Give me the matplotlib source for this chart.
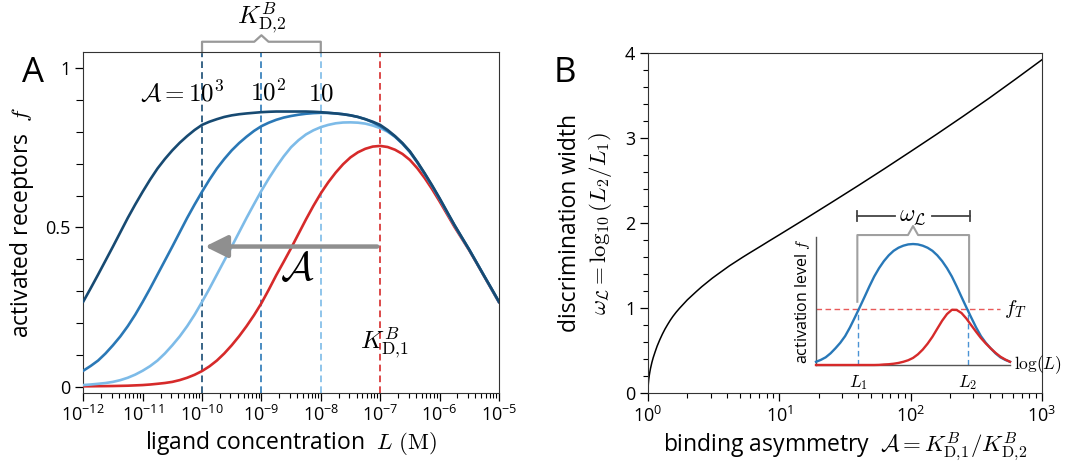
import matplotlib.pyplot as plt
import matplotlib.transforms as mtransforms
from matplotlib.ticker import LogLocator, NullFormatter, MultipleLocator
import numpy as np

plt.rcParams['font.family'] = ['Open Sans', 'DejaVu Sans']
plt.rcParams['mathtext.fontset'] = 'cm'

# ---- panel A data: log10 ligand concentration (M) and activation f ----
log_L = [-12, -11.875, -11.75, -11.625, -11.5, -11.375, -11.25, -11.125,
         -11, -10.875, -10.75, -10.625, -10.5, -10.375, -10.25, -10.125,
         -10, -9.875, -9.75, -9.625, -9.5, -9.375, -9.25, -9.125,
         -9, -8.875, -8.75, -8.625, -8.5, -8.375, -8.25, -8.125,
         -8, -7.875, -7.75, -7.625, -7.5, -7.375, -7.25, -7.125,
         -7, -6.875, -6.75, -6.625, -6.5, -6.375, -6.25, -6.125,
         -6, -5.875, -5.75, -5.625, -5.5, -5.375, -5.25, -5.125, -5]
f_A1 = [0.001, 0.0012, 0.0015, 0.0017, 0.002, 0.0025, 0.003, 0.004,
        0.005, 0.0067, 0.009, 0.0115, 0.015, 0.0206, 0.028, 0.0373,
        0.049, 0.0638, 0.082, 0.1043, 0.13, 0.1585, 0.19, 0.2243,
        0.262, 0.305, 0.35, 0.392, 0.435, 0.48, 0.525, 0.5676,
        0.607, 0.6416, 0.672, 0.6984, 0.72, 0.7359, 0.747, 0.7539,
        0.756, 0.7526, 0.744, 0.7308, 0.712, 0.686, 0.655, 0.62,
        0.582, 0.542, 0.502, 0.465, 0.428, 0.388, 0.347, 0.306, 0.265]
f_A10 = [0.005, 0.0068, 0.009, 0.0114, 0.015, 0.0205, 0.028, 0.0378,
         0.05, 0.0644, 0.082, 0.1043, 0.13, 0.158, 0.19, 0.226,
         0.266, 0.308, 0.352, 0.396, 0.44, 0.485, 0.53, 0.573,
         0.615, 0.654, 0.69, 0.723, 0.752, 0.774, 0.792, 0.805,
         0.815, 0.822, 0.827, 0.8295, 0.83, 0.829, 0.826, 0.82,
         0.812, 0.8006, 0.785, 0.764, 0.738, 0.705, 0.668, 0.63,
         0.59, 0.548, 0.507, 0.468, 0.43, 0.389, 0.348, 0.307, 0.266]
f_A100 = [0.05, 0.065, 0.082, 0.1043, 0.13, 0.158, 0.19, 0.226,
          0.266, 0.308, 0.352, 0.396, 0.44, 0.485, 0.53, 0.572,
          0.612, 0.65, 0.685, 0.715, 0.742, 0.765, 0.785, 0.803,
          0.818, 0.829, 0.838, 0.845, 0.85, 0.854, 0.857, 0.859,
          0.86, 0.8596, 0.858, 0.8556, 0.852, 0.847, 0.84, 0.83,
          0.818, 0.803, 0.785, 0.763, 0.737, 0.704, 0.668, 0.63,
          0.59, 0.548, 0.507, 0.468, 0.43, 0.389, 0.348, 0.307, 0.266]
f_A1000 = [0.267, 0.309, 0.352, 0.396, 0.44, 0.485, 0.53, 0.572,
           0.612, 0.65, 0.685, 0.715, 0.742, 0.766, 0.787, 0.806,
           0.822, 0.832, 0.84, 0.847, 0.852, 0.8555, 0.858, 0.86,
           0.862, 0.8632, 0.864, 0.864, 0.864, 0.864, 0.864, 0.8632,
           0.862, 0.86, 0.858, 0.8555, 0.852, 0.847, 0.84, 0.832,
           0.822, 0.806, 0.787, 0.765, 0.739, 0.706, 0.67, 0.632,
           0.592, 0.55, 0.508, 0.469, 0.43, 0.389, 0.348, 0.308, 0.267]
K_D2 = [1e-10, 1e-9, 1e-8]
K_D1 = 1e-7
A_labels = [r'$\mathcal{A} = 10^3$', r'$10^2$', r'$10$']
A_label_x = [10**-10.33, 10**-8.89, 1e-8]

# ---- panel B data: log10 binding asymmetry and discrimination width ----
log_asym = [0, 0.001, 0.003, 0.006, 0.01, 0.015, 0.02, 0.03, 0.04, 0.055,
            0.07, 0.09, 0.11, 0.13, 0.15, 0.17, 0.19, 0.215, 0.24, 0.27,
            0.3, 0.335, 0.37, 0.41, 0.45, 0.49, 0.53, 0.575, 0.62, 0.67,
            0.72, 0.77, 0.82, 0.87, 0.92, 1.0, 1.2, 1.4, 1.6, 1.8,
            2.0, 2.2, 2.4, 2.6, 2.8, 3.0]
omega = [0, 0.066, 0.115, 0.163, 0.21, 0.257, 0.297, 0.364, 0.42, 0.49,
         0.556, 0.63, 0.697, 0.757, 0.81, 0.86, 0.905, 0.955, 1.0, 1.05,
         1.1, 1.15, 1.2, 1.255, 1.305, 1.355, 1.4, 1.45, 1.5, 1.55,
         1.6, 1.648, 1.695, 1.742, 1.79, 1.865, 2.055, 2.248, 2.443, 2.642,
         2.845, 3.05, 3.26, 3.475, 3.698, 3.925]

# ---- inset data (arbitrary log L units) ----
inset_x = [0, 0.025, 0.05, 0.075, 0.1, 0.125, 0.15, 0.175, 0.2, 0.225,
           0.25, 0.275, 0.3, 0.325, 0.35, 0.375, 0.4, 0.425, 0.45, 0.475,
           0.5, 0.525, 0.55, 0.575, 0.6, 0.625, 0.65, 0.675, 0.7, 0.725,
           0.75, 0.775, 0.8, 0.825, 0.85, 0.875, 0.9, 0.925, 0.95, 0.975, 1.0]
inset_blue = [0.025, 0.04, 0.06, 0.091, 0.13, 0.173, 0.225, 0.293, 0.37, 0.449,
              0.53, 0.6125, 0.69, 0.755, 0.81, 0.855, 0.89, 0.914, 0.93, 0.94,
              0.943, 0.94, 0.93, 0.914, 0.89, 0.855, 0.81, 0.755, 0.69, 0.6125,
              0.53, 0.449, 0.37, 0.293, 0.225, 0.173, 0.13, 0.091, 0.06, 0.04, 0.025]
inset_red = [0, 0, 0, 0, 0, 0, 0, 0, 0, 0,
             0, 0, 0, 0.001, 0.004, 0.006, 0.01, 0.016, 0.025, 0.037,
             0.055, 0.083, 0.12, 0.166, 0.22, 0.283, 0.345, 0.397, 0.43, 0.429,
             0.405, 0.362, 0.31, 0.259, 0.21, 0.168, 0.13, 0.095, 0.065, 0.043, 0.025]
f_T = 0.434
L1, L2 = 0.218, 0.782

dark = '#174a72'
mid = '#2a78b6'
light = '#7dbbe8'
red = '#d62a2a'
gray = '#8f8f8f'
dash = (0, (4, 2.5))

fig = plt.figure(figsize=(10.87, 4.72), dpi=100)

# ================= panel A =================
ax = fig.add_axes([0.0766, 0.168, 0.3824, 0.7212])
L = 10.0 ** np.array(log_L)
ax.plot(L, f_A1, color=red, lw=1.9, zorder=3)
ax.plot(L, f_A10, color=light, lw=1.9, zorder=4)
ax.plot(L, f_A100, color=mid, lw=1.9, zorder=5)
ax.plot(L, f_A1000, color=dark, lw=1.9, zorder=6)

for k, c in zip(K_D2 + [K_D1], [dark, mid, light, red]):
    ax.axvline(k, color=c, lw=1.2, ls=dash, zorder=2)

ax.set_xscale('log')
ax.set_xlim(1e-12, 1e-5)
ax.set_ylim(-0.019, 1.05)
ax.set_xticks([10.0**e for e in range(-12, -4)])
ax.set_xticklabels([r'$\mathregular{10^{%d}}$' % e for e in range(-12, -4)])
ax.xaxis.set_minor_locator(LogLocator(base=10, subs=np.arange(2, 10)))
ax.xaxis.set_minor_formatter(NullFormatter())
ax.set_yticks([0, 0.5, 1])
ax.set_yticklabels(['0', '0.5', '1'])
ax.yaxis.set_minor_locator(MultipleLocator(0.1))
ax.tick_params(which='major', direction='out', length=6, width=0.9, labelsize=13, pad=3)
ax.tick_params(which='minor', direction='out', length=3.5, width=0.8)
ax.tick_params(axis='y', which='minor', length=5)
for s in ax.spines.values():
    s.set_color('#333333')
ax.set_xlabel(r'ligand concentration  $L\ (\mathrm{M})$', fontsize=16.5, labelpad=3)
ax.set_ylabel(r'activated receptors  $f$', fontsize=16.5, labelpad=7)

# bracket for K_D,2 above the axes
trans = mtransforms.blended_transform_factory(ax.transData, ax.transAxes)
nx = [K_D2[0], K_D2[0], 10**-9.12, 1e-9, 10**-8.88, K_D2[2], K_D2[2]]
ny = [1.0, 1.031, 1.031, 1.05, 1.031, 1.031, 1.0]
ax.plot(nx, ny, color='#999999', lw=1.6, transform=trans, clip_on=False)
ax.text(1e-9, 1.10, r'$K^B_{\mathrm{D},\!2}$', transform=trans, ha='center',
        va='center', fontsize=18)

for txt, xx in zip(A_labels, A_label_x):
    ax.text(xx, 0.92, txt, ha='center', va='center', fontsize=18)
ax.text(10**-6.92, 0.137, r'$K^B_{\mathrm{D},\!1}$', ha='center', va='center', fontsize=18)

ax.annotate('', xy=(10**-9.95, 0.44), xytext=(10**-7.05, 0.44),
            arrowprops=dict(arrowstyle='-|>,head_length=0.85,head_width=0.42',
                            lw=3.2, color=gray, mutation_scale=16,
                            shrinkA=0, shrinkB=0), zorder=7)
ax.text(10**-8.39, 0.366, r'$\mathcal{A}$', ha='center', va='center', fontsize=29)

fig.text(0.030, 0.845, 'A', fontsize=25, ha='center', va='center')

# ================= panel B =================
bx = fig.add_axes([0.5961, 0.1667, 0.3625, 0.7203])
bx.plot(10.0 ** np.array(log_asym), omega, color='black', lw=1.1)
bx.set_xscale('log')
bx.set_xlim(1, 1000)
bx.set_ylim(0, 4)
bx.set_xticks([1, 10, 100, 1000])
bx.set_xticklabels([r'$\mathregular{10^{%d}}$' % e for e in range(0, 4)])
bx.xaxis.set_minor_locator(LogLocator(base=10, subs=np.arange(2, 10)))
bx.xaxis.set_minor_formatter(NullFormatter())
bx.set_yticks([0, 1, 2, 3, 4])
bx.yaxis.set_minor_locator(MultipleLocator(0.2))
bx.tick_params(which='major', direction='out', length=6, width=0.9, labelsize=13, pad=3)
bx.tick_params(which='minor', direction='out', length=3.5, width=0.8)
for s in bx.spines.values():
    s.set_color('#333333')
bx.set_xlabel(r'binding asymmetry  $\mathcal{A} = K^B_{\mathrm{D},\!1}/K^B_{\mathrm{D},\!2}$',
              fontsize=16.5, labelpad=3)
bx.set_ylabel('discrimination width\n' + r'$\omega_{\mathcal{L}} = \log_{10}(L_2/L_1)$',
              fontsize=16.5, labelpad=8, linespacing=1.25)
fig.text(0.520, 0.845, 'B', fontsize=25, ha='center', va='center')

# ---- inset ----
ix = fig.add_axes([0.7507, 0.2267, 0.1785, 0.2718])
ix.plot(inset_x, inset_blue, color='#2878b8', lw=1.7, clip_on=False, zorder=3)
ix.plot(inset_x, inset_red, color=red, lw=1.7, clip_on=False, zorder=4)
ix.plot([0, 0.95], [f_T, f_T], color='#e85a5a', lw=1.0, ls=dash, clip_on=False)
ix.plot([L1, L1], [0, f_T], color='#4a93d4', lw=1.0, ls=dash)
ix.plot([L2, L2], [0, f_T], color='#4a93d4', lw=1.0, ls=dash)
ix.set_xlim(0, 1)
ix.set_ylim(0, 1)
ix.set_xticks([])
ix.set_yticks([])
ix.spines['top'].set_visible(False)
ix.spines['right'].set_visible(False)
for s in ['left', 'bottom']:
    ix.spines[s].set_color('#555555')
    ix.spines[s].set_linewidth(1.0)
ix.patch.set_alpha(0)
ix.set_ylabel(r'activation level $f$', fontsize=11.5, labelpad=3)
ix.text(0.97, f_T, r'$f_T$', ha='left', va='center', fontsize=15)
ix.text(L1, -0.06, r'$L_1$', ha='center', va='top', fontsize=12.5)
ix.text(L2, -0.06, r'$L_2$', ha='center', va='top', fontsize=12.5)
ix.text(1.02, 0.0, r'$\log(L)$', ha='left', va='center', fontsize=12.5)
bxs = [0.213, 0.213, 0.474, 0.5, 0.526, 0.789, 0.789]
bys = [0.493, 1.013, 1.013, 1.083, 1.013, 1.013, 0.493]
ix.plot(bxs, bys, color='#a0a0a0', lw=1.5, clip_on=False)
ix.plot([0.211, 0.405], [1.161, 1.161], color='#444444', lw=1.3, clip_on=False)
ix.plot([0.6, 0.796], [1.161, 1.161], color='#444444', lw=1.3, clip_on=False)
ix.plot([0.211, 0.211], [1.12, 1.2], color='#444444', lw=1.3, clip_on=False)
ix.plot([0.796, 0.796], [1.12, 1.2], color='#444444', lw=1.3, clip_on=False)
ix.text(0.5, 1.17, r'$\omega_{\mathcal{L}}$', ha='center', va='center', fontsize=17)

plt.savefig('out.png', dpi=100)
